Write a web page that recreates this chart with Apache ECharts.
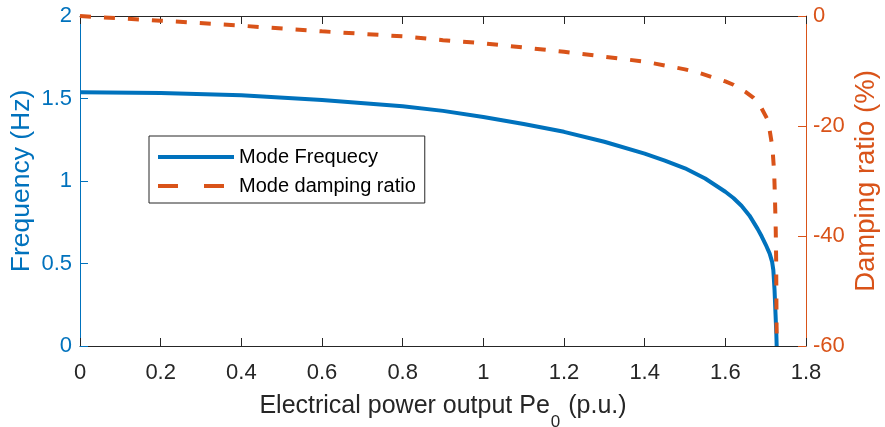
<!DOCTYPE html>
<html>
<head>
<meta charset="utf-8">
<script src="https://cdn.jsdelivr.net/npm/echarts@6/dist/echarts.min.js"></script>
<style>
html,body{margin:0;padding:0;background:#fff;}
#chart{width:885px;height:427px;}
</style>
</head>
<body>
<div id="chart"></div>
<script>
// ---- Data ----
var freqX = [0, 0.2, 0.4, 0.6, 0.8, 0.9, 1.0, 1.1, 1.2, 1.3, 1.4, 1.45, 1.5, 1.55, 1.6, 1.62, 1.64, 1.66, 1.68, 1.69, 1.70, 1.71, 1.716, 1.719, 1.722, 1.7245, 1.7265, 1.7273];
var freqY = [1.538, 1.533, 1.519, 1.491, 1.453, 1.425, 1.388, 1.345, 1.298, 1.238, 1.166, 1.124, 1.077, 1.015, 0.935, 0.897, 0.85, 0.79, 0.71, 0.665, 0.615, 0.56, 0.51, 0.46, 0.34, 0.19, 0.07, 0.0];

var dampX = [0, 0.2, 0.4, 0.6, 0.8, 0.9, 1.0, 1.2, 1.4, 1.5, 1.537, 1.6, 1.62, 1.65, 1.67, 1.68, 1.69, 1.703, 1.71, 1.715, 1.718, 1.721, 1.723, 1.725, 1.726, 1.7265, 1.727, 1.7275];
var dampY = [0, -0.85, -1.76, -2.79, -3.7, -4.4, -4.97, -6.5, -8.3, -9.7, -10.4, -11.9, -12.5, -13.8, -14.9, -15.7, -16.8, -18.6, -20.8, -23.1, -25.2, -28.3, -33, -39, -44.4, -50, -56, -60];

var xTicks = [0, 0.2, 0.4, 0.6, 0.8, 1, 1.2, 1.4, 1.6, 1.8];
var freqTicks = [0, 0.5, 1, 1.5, 2];
var dampTicks = [-60, -40, -20, 0];

var seriesNames = ['Mode Frequecy', 'Mode damping ratio'];
var axisTitles = {
  x: '{a|Electrical power output Pe}{s|0}{a| (p.u.)}',
  left: 'Frequency (Hz)',
  right: 'Damping ratio (%)'
};

// ---- Styling ----
var BLUE = '#0072BD';
var ORANGE = '#D95319';
var DARK = '#262626';
var FONT = 'Liberation Sans, Arial, Helvetica, sans-serif';
var LW = 4;
var DASH = [11, 13];

function pairs(xs, ys) {
  var out = [];
  for (var i = 0; i < xs.length; i++) out.push([xs[i], ys[i]]);
  return out;
}

var chart = echarts.init(document.getElementById('chart'), null, {renderer: 'canvas'});

var option = {
  backgroundColor: '#ffffff',
  animation: false,
  textStyle: {fontFamily: FONT},
  grid: {left: 80, right: 79, top: 16, bottom: 81, containLabel: false, outerBoundsMode: 'none'},
  legend: {
    orient: 'vertical',
    left: 149,
    top: 136,
    padding: [11, 9, 7, 7],
    itemGap: 9,
    itemWidth: 76,
    itemHeight: 14,
    backgroundColor: '#ffffff',
    borderColor: DARK,
    borderWidth: 1,
    borderRadius: 0,
    itemStyle: {opacity: 0},
    textStyle: {fontSize: 20, color: '#000', fontFamily: FONT},
    data: [
      {name: seriesNames[0], itemStyle: {opacity: 0}, lineStyle: {width: LW, color: BLUE}},
      {name: seriesNames[1], itemStyle: {opacity: 0}, lineStyle: {width: LW, color: ORANGE, type: [20, 26]}}
    ]
  },
  xAxis: [{
    type: 'value',
    position: 'bottom',
    min: xTicks[0],
    max: xTicks[xTicks.length - 1],
    interval: 0.2,
    axisLine: {show: true, onZero: false, lineStyle: {color: DARK, width: 1}},
    axisTick: {show: true, inside: true, length: 8, lineStyle: {color: DARK}},
    axisLabel: {show: true, fontSize: 22, color: DARK, margin: 16, fontFamily: FONT,
      formatter: function (v) { return String(Math.round(v * 10) / 10); }},
    splitLine: {show: false},
    name: axisTitles.x,
    nameLocation: 'middle',
    nameGap: 48,
    nameMoveOverlap: false,
    nameTextStyle: {
      rich: {
        a: {fontSize: 25, color: DARK, fontFamily: FONT, verticalAlign: 'top', lineHeight: 27},
        s: {fontSize: 17, color: DARK, fontFamily: FONT, verticalAlign: 'top', lineHeight: 17, padding: [20, 1, 0, 1]}
      }
    }
  }, {
    type: 'value',
    position: 'top',
    min: xTicks[0],
    max: xTicks[xTicks.length - 1],
    interval: 0.2,
    axisLine: {show: true, onZero: false, lineStyle: {color: DARK, width: 1}},
    axisTick: {show: true, inside: true, length: 8, lineStyle: {color: DARK}},
    axisLabel: {show: false},
    splitLine: {show: false}
  }],
  yAxis: [{
    type: 'value',
    position: 'left',
    min: freqTicks[0],
    max: freqTicks[freqTicks.length - 1],
    interval: 0.5,
    axisLine: {show: true, onZero: false, lineStyle: {color: BLUE, width: 1}},
    axisTick: {show: true, inside: true, length: 8, lineStyle: {color: BLUE}},
    axisLabel: {show: true, fontSize: 22, color: BLUE, margin: 8, fontFamily: FONT},
    splitLine: {show: false},
    name: axisTitles.left,
    nameLocation: 'middle',
    nameGap: 45,
    nameMoveOverlap: false,
    nameTextStyle: {fontSize: 26.5, color: BLUE, fontFamily: FONT}
  }, {
    type: 'value',
    position: 'right',
    min: dampTicks[0],
    max: dampTicks[dampTicks.length - 1],
    interval: 20,
    axisLine: {show: true, onZero: false, lineStyle: {color: ORANGE, width: 1}},
    axisTick: {show: true, inside: true, length: 8, lineStyle: {color: ORANGE}},
    axisLabel: {show: true, fontSize: 22, color: ORANGE, margin: 7, fontFamily: FONT},
    splitLine: {show: false},
    name: axisTitles.right,
    nameLocation: 'middle',
    nameGap: 46,
    nameRotate: 90,
    nameMoveOverlap: false,
    nameTextStyle: {fontSize: 27.5, color: ORANGE, fontFamily: FONT}
  }],
  series: [{
    name: seriesNames[0],
    type: 'line',
    xAxisIndex: 0,
    yAxisIndex: 0,
    data: pairs(freqX, freqY),
    showSymbol: false,
    symbol: 'none',
    smooth: false,
    clip: true,
    color: BLUE,
    lineStyle: {color: BLUE, width: LW},
    z: 2
  }, {
    name: seriesNames[1],
    type: 'line',
    xAxisIndex: 0,
    yAxisIndex: 1,
    data: pairs(dampX, dampY),
    showSymbol: false,
    symbol: 'none',
    smooth: false,
    clip: true,
    color: ORANGE,
    lineStyle: {color: ORANGE, width: LW, type: DASH},
    z: 3
  }]
};
chart.setOption(option);
</script>
</body>
</html>
